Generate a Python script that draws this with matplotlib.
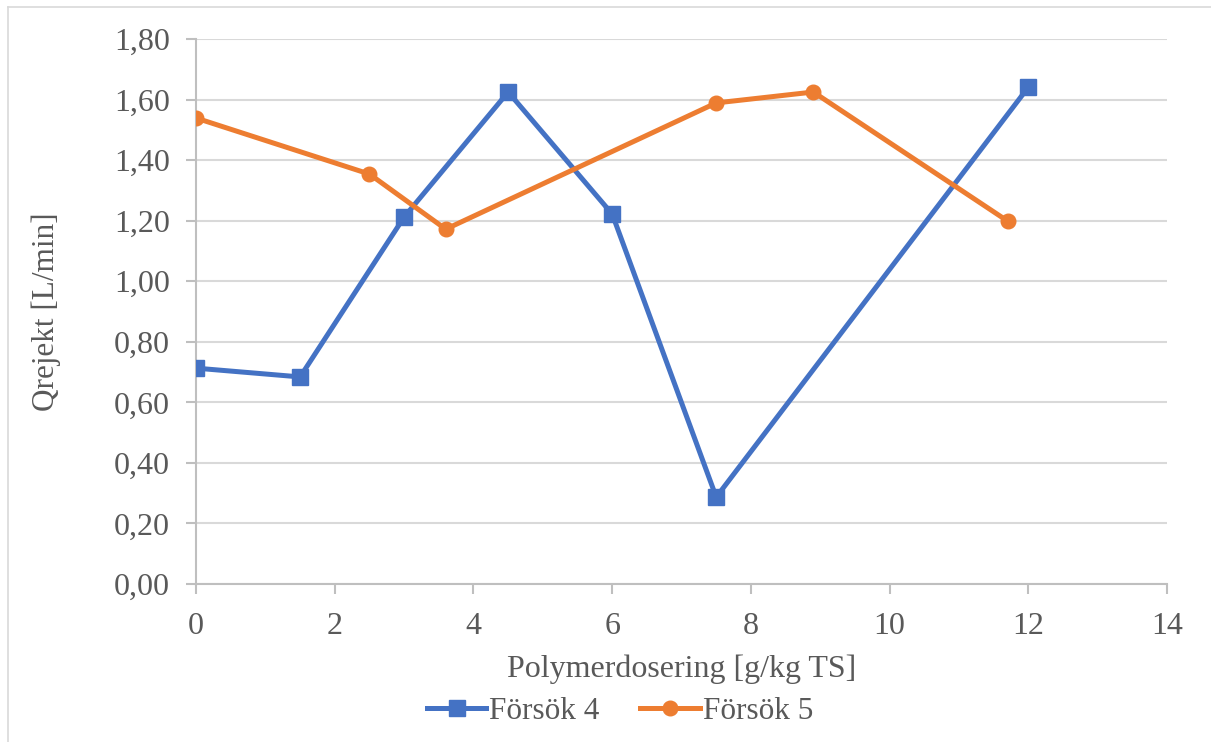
import matplotlib.pyplot as plt
from matplotlib.lines import Line2D
from matplotlib.ticker import FuncFormatter, MultipleLocator

# Försök 4: dosering och flöde
dos_4 = [0, 1.5, 3.0, 4.5, 6.0, 7.5, 12.0]
q_4 = [0.713, 0.684, 1.212, 1.625, 1.222, 0.287, 1.641]

# Försök 5: dosering och flöde
dos_5 = [0, 2.5, 3.6, 7.5, 8.9, 11.7]
q_5 = [1.539, 1.354, 1.172, 1.589, 1.625, 1.199]

BLUE = "#4472C4"
ORANGE = "#ED7D31"
TEXT = "#595959"
GRID = "#D9D9D9"
AXIS = "#BFBFBF"

serif = ["Liberation Serif", "DejaVu Serif"]

fig = plt.figure(figsize=(12.11, 7.42), dpi=100)
ax = fig.add_axes([0.1619, 0.2129, 0.8018, 0.7345])

ax.plot(dos_4, q_4, color=BLUE, lw=3.6, marker="s", ms=11,
        solid_joinstyle="round", label="Försök 4", zorder=3)
ax.plot(dos_5, q_5, color=ORANGE, lw=3.6, marker="o", ms=10.5,
        solid_joinstyle="round", label="Försök 5", zorder=3)

ax.set_xlim(0, 14)
ax.set_ylim(0, 1.8)
ax.xaxis.set_major_locator(MultipleLocator(2))
ax.yaxis.set_major_locator(MultipleLocator(0.2))
ax.yaxis.set_major_formatter(FuncFormatter(lambda v, p: f"{v:.2f}".replace(".", ",")))

ax.grid(axis="y", color=GRID, lw=1.5, zorder=0)
for side in ["top", "right"]:
    ax.spines[side].set_visible(False)
for side in ["left", "bottom"]:
    ax.spines[side].set_color(AXIS)
    ax.spines[side].set_linewidth(1.5)
ax.tick_params(length=7, width=1.5, color=AXIS, labelcolor=TEXT,
               labelsize=23)
ax.tick_params(axis="y", pad=12)
ax.tick_params(axis="x", pad=13)
for lbl in ax.get_xticklabels() + ax.get_yticklabels():
    lbl.set_family(serif)

ax.set_xlabel("Polymerdosering [g/kg TS]", fontsize=23, color=TEXT,
              family=serif, labelpad=10)
ax.set_ylabel("Qrejekt [L/min]", fontsize=22.5, color=TEXT,
              family=serif, labelpad=38)

handles = [
    Line2D([], [], color=BLUE, lw=3.6, marker="s", ms=11),
    Line2D([], [], color=ORANGE, lw=3.6, marker="o", ms=10.5),
]
fig.legend(handles, ["Försök 4", "Försök 5"], loc="center",
           bbox_to_anchor=(0.512, 0.041), ncol=2, frameon=False,
           prop={"family": serif, "size": 22.5}, labelcolor=TEXT,
           handlelength=1.9, handletextpad=0.1, columnspacing=1.3)

# tunn ram uppe och till vänster
fig.add_artist(Line2D([8 / 1211, 8 / 1211], [0, 1 - 7 / 742],
                      transform=fig.transFigure, color="#D9D9D9", lw=1.2))
fig.add_artist(Line2D([8 / 1211, 1], [1 - 7 / 742, 1 - 7 / 742],
                      transform=fig.transFigure, color="#D9D9D9", lw=1.2))

fig.savefig("out.png", dpi=100)
